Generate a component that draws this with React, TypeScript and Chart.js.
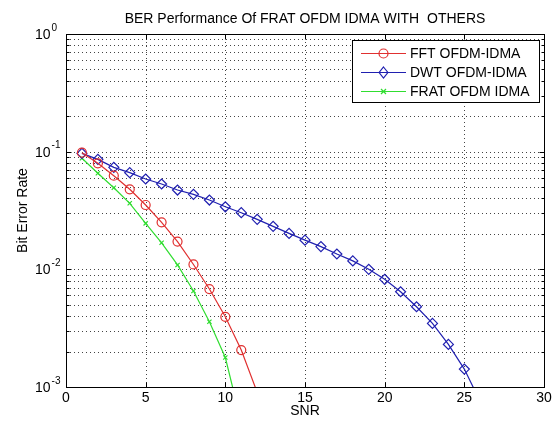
import React, { useEffect, useRef } from 'react';
import { Chart, registerables } from 'chart.js';

Chart.register(...registerables);

const TITLE = 'BER Performance Of FRAT OFDM IDMA WITH  OTHERS';
const X_LABEL = 'SNR';
const Y_LABEL = 'Bit Error Rate';
const X_TICKS = [0, 5, 10, 15, 20, 25, 30];
const Y_DECADES = [0, -1, -2, -3];
const SERIES_NAMES = ['FFT OFDM-IDMA', 'DWT OFDM-IDMA', 'FRAT OFDM IDMA'];

const SNR_FFT = [1, 2, 3, 4, 5, 6, 7, 8, 9, 10, 11, 12];
const BER_FFT = [0.098, 0.0796, 0.0625, 0.0479, 0.0352, 0.0251, 0.0172, 0.011, 0.0068, 0.00395, 0.00206, 0.0009];

const SNR_DWT = [1, 2, 3, 4, 5, 6, 7, 8, 9, 10, 11, 12, 13, 14, 15, 16, 17, 18, 19, 20, 21, 22, 23, 24, 25, 26];
const BER_DWT = [0.0968, 0.086, 0.0736, 0.0663, 0.0586, 0.0531, 0.0472, 0.0434, 0.0388, 0.034, 0.0303, 0.0266, 0.0232, 0.0202, 0.0177, 0.0156, 0.0135, 0.0118, 0.01, 0.00822, 0.00645, 0.00481, 0.00347, 0.0023, 0.00142, 0.00075];

const SNR_FRAT = [1, 2, 3, 4, 5, 6, 7, 8, 9, 10, 11];
const BER_FRAT = [0.088, 0.0655, 0.0494, 0.0364, 0.0246, 0.0168, 0.0109, 0.00655, 0.00359, 0.00178, 0.0005];

const RED = '#e03030';
const BLUE = '#2020b0';
const GREEN = '#30dd30';
const FONT = "'Liberation Sans', Arial, sans-serif";

const mk = (xs: number[], ys: number[]) => xs.map((v, i) => ({ x: v, y: ys[i] }));

function drawMarker(ctx: CanvasRenderingContext2D, style: string, cx: number, cy: number, color: string) {
  ctx.save();
  ctx.strokeStyle = color;
  ctx.lineWidth = 1.2;
  ctx.setLineDash([]);
  ctx.beginPath();
  if (style === 'circle') {
    ctx.arc(cx, cy, 4.5, 0, Math.PI * 2);
  } else if (style === 'diamond') {
    const r = 5.5;
    ctx.moveTo(cx, cy - r);
    ctx.lineTo(cx + r * 0.8, cy);
    ctx.lineTo(cx, cy + r);
    ctx.lineTo(cx - r * 0.8, cy);
    ctx.closePath();
  } else {
    const r = 2.5;
    ctx.moveTo(cx - r, cy - r);
    ctx.lineTo(cx + r, cy + r);
    ctx.moveTo(cx + r, cy - r);
    ctx.lineTo(cx - r, cy + r);
  }
  ctx.stroke();
  ctx.restore();
}

const matlabPlugin = {
  id: 'matlabDecor',
  beforeDatasetsDraw(chart: any) {
    const { ctx, chartArea: a, scales } = chart;
    const x = scales.x;
    const y = scales.y;
    ctx.save();
    ctx.strokeStyle = '#444';
    ctx.lineWidth = 1;
    ctx.setLineDash([1, 3]);
    for (const v of X_TICKS) {
      if (v === X_TICKS[0] || v === X_TICKS[X_TICKS.length - 1]) continue;
      const px = Math.round(x.getPixelForValue(v)) + 0.5;
      ctx.beginPath();
      ctx.moveTo(px, a.top);
      ctx.lineTo(px, a.bottom);
      ctx.stroke();
    }
    for (let e = -3; e < 0; e++) {
      for (let m = 1; m <= 9; m++) {
        if (e === -3 && m === 1) continue;
        const py = Math.round(y.getPixelForValue(m * Math.pow(10, e))) + 0.5;
        ctx.beginPath();
        ctx.moveTo(a.left, py);
        ctx.lineTo(a.right, py);
        ctx.stroke();
      }
    }
    ctx.restore();
  },
  afterDraw(chart: any) {
    const { ctx, chartArea: a, scales } = chart;
    const x = scales.x;
    const y = scales.y;
    ctx.save();
    ctx.setLineDash([]);
    ctx.strokeStyle = '#000';
    ctx.lineWidth = 1;
    const L = Math.round(a.left) + 0.5;
    const R = Math.round(a.right) + 0.5;
    const T = Math.round(a.top) + 0.5;
    const B = Math.round(a.bottom) + 0.5;
    ctx.strokeRect(L, T, R - L, B - T);
    // ticks
    ctx.beginPath();
    for (const v of X_TICKS) {
      const px = Math.round(x.getPixelForValue(v)) + 0.5;
      ctx.moveTo(px, B); ctx.lineTo(px, B - 5);
      ctx.moveTo(px, T); ctx.lineTo(px, T + 5);
    }
    for (let e = -3; e <= 0; e++) {
      const py = Math.round(y.getPixelForValue(Math.pow(10, e))) + 0.5;
      ctx.moveTo(L, py); ctx.lineTo(L + 5, py);
      ctx.moveTo(R, py); ctx.lineTo(R - 5, py);
      if (e < 0) {
        for (let m = 2; m <= 9; m++) {
          const pm = Math.round(y.getPixelForValue(m * Math.pow(10, e))) + 0.5;
          ctx.moveTo(L, pm); ctx.lineTo(L + 3, pm);
          ctx.moveTo(R, pm); ctx.lineTo(R - 3, pm);
        }
      }
    }
    ctx.stroke();

    ctx.fillStyle = '#000';
    // x tick labels
    ctx.font = `14px ${FONT}`;
    ctx.textAlign = 'center';
    ctx.textBaseline = 'middle';
    for (const v of X_TICKS) {
      ctx.fillText(String(v), x.getPixelForValue(v), 398);
    }
    // y tick labels
    for (const e of Y_DECADES) {
      const py = y.getPixelForValue(Math.pow(10, e));
      ctx.font = `14px ${FONT}`;
      ctx.textAlign = 'left';
      ctx.textBaseline = 'middle';
      ctx.fillText('10', 35, py + 1);
      const w = ctx.measureText('10').width;
      ctx.font = `10px ${FONT}`;
      ctx.fillText(String(e), 35 + w + 1, py - 6);
    }
    // axis titles
    ctx.font = `14px ${FONT}`;
    ctx.textAlign = 'center';
    ctx.textBaseline = 'middle';
    ctx.fillText(X_LABEL, (a.left + a.right) / 2, 411);
    ctx.fillText(TITLE, (a.left + a.right) / 2, 19);
    ctx.save();
    ctx.translate(23, (a.top + a.bottom) / 2);
    ctx.rotate(-Math.PI / 2);
    ctx.fillText(Y_LABEL, 0, 0);
    ctx.restore();

    // legend
    const bx = 352.5, by = 40.5, bw = 187, bh = 62;
    ctx.fillStyle = '#fff';
    ctx.fillRect(bx, by, bw, bh);
    ctx.strokeStyle = '#000';
    ctx.lineWidth = 1;
    ctx.strokeRect(bx, by, bw, bh);
    const rows = [53.5, 72.5, 91.5];
    const colors = [RED, BLUE, GREEN];
    const styles = ['circle', 'diamond', 'cross'];
    for (let i = 0; i < 3; i++) {
      ctx.strokeStyle = colors[i];
      ctx.lineWidth = 1.2;
      ctx.beginPath();
      ctx.moveTo(361, rows[i]);
      ctx.lineTo(406, rows[i]);
      ctx.stroke();
      drawMarker(ctx, styles[i], 383.5, rows[i], colors[i]);
      ctx.fillStyle = '#000';
      ctx.font = `14px ${FONT}`;
      ctx.textAlign = 'left';
      ctx.textBaseline = 'middle';
      ctx.fillText(SERIES_NAMES[i], 410, rows[i] + 0.5);
    }
    ctx.restore();
  },
};

export default function App() {
  const ref = useRef<HTMLCanvasElement | null>(null);
  useEffect(() => {
    document.body.style.margin = '0';
    const canvas = ref.current;
    if (!canvas) return;
    const common = {
      backgroundColor: 'rgba(0,0,0,0)',
      borderWidth: 1.2,
      pointBackgroundColor: 'rgba(0,0,0,0)',
      pointBorderWidth: 1.2,
      tension: 0,
      clip: 0,
    };
    const chart = new Chart(canvas, {
      type: 'line',
      data: {
        datasets: [
          {
            ...common,
            label: SERIES_NAMES[0],
            data: mk(SNR_FFT, BER_FFT),
            borderColor: RED,
            pointStyle: 'circle',
            pointRadius: 4.5,
            pointBorderColor: RED,
          },
          {
            ...common,
            label: SERIES_NAMES[1],
            data: mk(SNR_DWT, BER_DWT),
            borderColor: BLUE,
            pointStyle: 'rectRot',
            pointRadius: 5,
            pointBorderColor: BLUE,
          },
          {
            ...common,
            label: SERIES_NAMES[2],
            data: mk(SNR_FRAT, BER_FRAT),
            borderColor: GREEN,
            pointStyle: 'crossRot',
            pointRadius: 3,
            pointBorderColor: GREEN,
          },
        ],
      },
      options: {
        responsive: false,
        animation: false,
        devicePixelRatio: 1,
        layout: { padding: { left: 66, top: 34, right: 14, bottom: 35 } },
        plugins: {
          legend: { display: false },
          title: { display: false },
          tooltip: { enabled: false },
        },
        scales: {
          x: { type: 'linear', min: 0, max: 30, display: false },
          y: { type: 'logarithmic', min: 0.001, max: 1, display: false },
        },
      },
      plugins: [matlabPlugin],
    } as any);
    return () => chart.destroy();
  }, []);
  return (
    <div style={{ width: 558, height: 422, background: '#fff' }}>
      <canvas ref={ref} width={558} height={422} style={{ display: 'block' }} />
    </div>
  );
}
